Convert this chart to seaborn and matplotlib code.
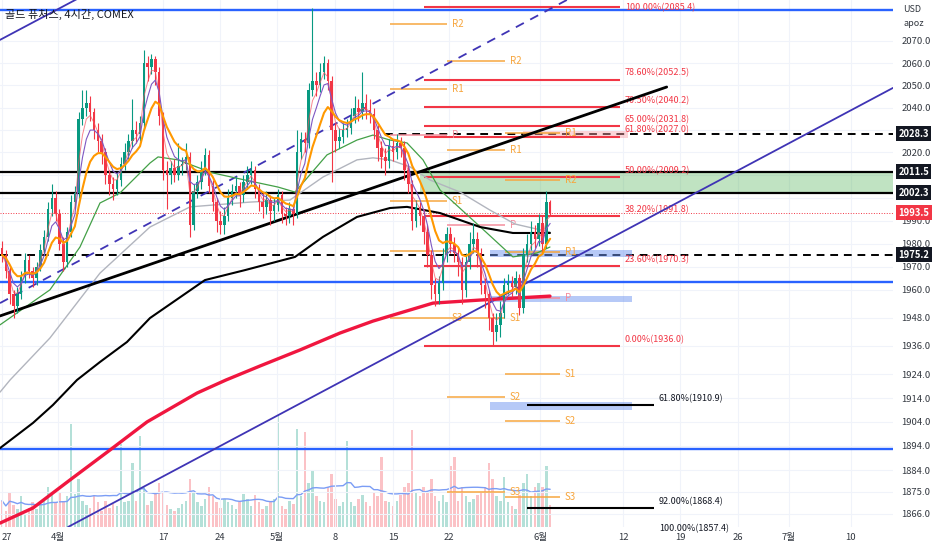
import numpy as np
import pandas as pd
import matplotlib
matplotlib.use('Agg')
import matplotlib.pyplot as plt
import matplotlib.transforms as mtransforms
from matplotlib.ticker import FixedLocator, NullLocator, FuncFormatter
import seaborn as sns

sns.set_theme(style='white')
plt.rcParams['font.family'] = ['Noto Sans CJK KR', 'DejaVu Sans']

# ---- candles: 3 candles per trading day, day 0 = Mar 27 ----
first_open = 1978
closes = [1975, 1968, 1958, 1953, 1958, 1966, 1973, 1968, 1965, 1970,
          1977, 1983, 1995, 2000, 1993, 1980, 1972, 1985, 1998, 2002,
          2035, 2040, 2042, 2038, 2030, 2025, 2020, 2010, 2006, 2004,
          2008, 2015, 2020, 2025, 2030, 2028, 2033, 2060, 2058, 2062,
          2056, 2036, 2012, 2010, 2013, 2010, 2014, 2015, 2018, 1988,
          2003, 2007, 2012, 2019, 2005, 1998, 1990, 1988, 1992, 2000,
          2003, 2005, 2001, 2007, 2010, 2012, 2004, 1998, 1996, 1999,
          1994, 1997, 2001, 1993, 1992, 1995, 1993, 2020, 2026, 2024,
          2048, 2052, 2050, 2056, 2060, 2052, 2030, 2025, 2027, 2030,
          2031, 2036, 2040, 2038, 2042, 2039, 2037, 2030, 2022, 2018,
          2016, 2023, 2020, 2024, 2022, 2012, 2006, 1990, 1996, 1992,
          1985, 1975, 1962, 1958, 1963, 1975, 1984, 1980, 1976, 1972,
          1960, 1972, 1980, 1982, 1976, 1962, 1958, 1948, 1942, 1945,
          1950, 1962, 1963, 1961, 1965, 1952, 1975, 1980, 1985, 1982,
          1989, 1980, 1998, 1993.5]
highs = [1981, 1977, 1970, 1960, 1961, 1968, 1976, 1975, 1970, 1972,
         1980, 1986, 1998, 2006, 2003, 1995, 1983, 1987, 2001, 2005,
         2038, 2048, 2048, 2045, 2040, 2033, 2028, 2022, 2012, 2009,
         2011, 2018, 2024, 2028, 2044, 2034, 2036, 2066, 2063, 2064,
         2063, 2058, 2038, 2016, 2016, 2017, 2024, 2018, 2024, 2020,
         2006, 2010, 2016, 2022, 2021, 2008, 2000, 1994, 1996, 2004,
         2006, 2009, 2007, 2010, 2014, 2016, 2014, 2006, 2002, 2003,
         2001, 2000, 2004, 2003, 1996, 1998, 1997, 2030, 2029, 2029,
         2051, 2085, 2056, 2060, 2063, 2062, 2054, 2033, 2031, 2033,
         2035, 2040, 2045, 2044, 2056, 2046, 2044, 2040, 2032, 2025,
         2022, 2026, 2026, 2028, 2027, 2025, 2015, 2008, 1999, 1998,
         1995, 1988, 1977, 1965, 1966, 1978, 1987, 1987, 1983, 1978,
         1974, 1976, 1985, 1989, 1985, 1978, 1965, 1960, 1950, 1950,
         1955, 1965, 1967, 1966, 1968, 1967, 1978, 1984, 1990, 1988,
         1993, 1992, 2003, 1999]
lows = [1972, 1965, 1954, 1948, 1950, 1956, 1963, 1965, 1961, 1962,
        1968, 1975, 1981, 1992, 1990, 1977, 1968, 1970, 1983, 1995,
        2000, 2032, 2036, 2034, 2026, 2020, 2015, 2006, 2001, 1999,
        2001, 2005, 2012, 2017, 2022, 2024, 2025, 2030, 2052, 2055,
        2050, 2032, 2008, 1995, 2006, 2007, 2008, 2010, 2012, 1983,
        1986, 2000, 2004, 2010, 2002, 1994, 1985, 1984, 1984, 1990,
        1997, 2000, 1996, 1998, 2004, 2006, 2000, 1994, 1991, 1993,
        1988, 1990, 1994, 1989, 1988, 1989, 1988, 1991, 2017, 2020,
        2022, 2045, 2045, 2047, 2053, 2048, 2007, 2020, 2022, 2024,
        2027, 2028, 2033, 2034, 2035, 2035, 2033, 2026, 2016, 2013,
        2010, 2013, 2016, 2017, 2018, 2008, 2002, 1986, 1987, 1988,
        1980, 1970, 1956, 1953, 1954, 1960, 1972, 1976, 1972, 1966,
        1954, 1957, 1969, 1976, 1970, 1958, 1952, 1943, 1936, 1938,
        1940, 1948, 1958, 1957, 1958, 1949, 1950, 1972, 1977, 1978,
        1979, 1976, 1978, 1992]
volumes = [30, 18, 40, 25, 20, 35, 15, 22, 28, 20,
           25, 30, 45, 38, 28, 40, 30, 35, 117, 38,
           55, 30, 25, 22, 35, 28, 18, 30, 22, 26,
           24, 95, 28, 30, 73, 30, 104, 45, 25, 30,
           38, 50, 40, 25, 20, 18, 22, 26, 30, 55,
           40, 28, 24, 32, 45, 35, 28, 22, 32, 28,
           25, 20, 28, 38, 32, 24, 36, 28, 20, 24,
           28, 32, 129, 24, 20, 30, 26, 112, 35, 108,
           50, 65, 35, 30, 28, 45, 60, 32, 24, 28,
           98, 28, 24, 32, 36, 28, 24, 40, 35, 80,
           30, 28, 24, 30, 36, 45, 50, 110, 40, 35,
           45, 40, 55, 35, 30, 36, 28, 70, 80, 30,
           45, 35, 28, 32, 36, 40, 45, 73, 55, 35,
           30, 57, 28, 24, 20, 36, 50, 60, 35, 45,
           50, 45, 70, 25]

# ---- long moving averages (day, price) ----
red_ma_days = [-0.17, 2.70, 5.91, 9.39, 12.61, 16.96, 19.48, 22.43, 25.91, 29.39, 32.26, 37.48, 41.57, 47.65]
red_ma_vals = [1862.2, 1868.4, 1879.9, 1892.3, 1904.0, 1916.1, 1921.6, 1927.5, 1934.3, 1941.5, 1946.6, 1954.3, 1955.6, 1957.3]
black_ma_days = [-0.17, 2.70, 4.43, 6.52, 8.52, 10.87, 12.87, 17.65, 21.13, 25.48, 27.91, 30.87, 33.74, 35.22, 38.09, 41.57, 44.43, 47.65]
black_ma_vals = [1893.1, 1903.6, 1911.1, 1921.6, 1929.2, 1937.7, 1947.9, 1964.2, 1968.5, 1974.2, 1982.9, 1991.6, 1995.5, 1996.0, 1993.3, 1987.2, 1984.6, 1984.6]
grey_ma_days = [-0.17, 0.70, 4.17, 8.52, 12.87, 16.35, 21.57, 25.04, 27.91, 30.87, 32.26, 33.74, 35.48, 37.22, 39.83, 42.43, 44.61, 47.65]
grey_ma_vals = [1916.5, 1921.6, 1939.4, 1967.2, 1987.2, 1996.0, 1998.1, 1999.0, 2009.1, 2016.7, 2017.6, 2016.7, 2013.6, 2007.8, 2002.5, 1994.6, 1988.5, 1985.0]
green_ma_days = [-0.17, 4.17, 6.78, 8.52, 10.26, 12.87, 13.57, 15.30, 18.26, 21.13, 24.0, 25.48, 28.26, 30.87, 32.26, 33.74, 35.22, 36.61, 38.09, 42.17, 44.43, 46.52, 47.65]
green_ma_vals = [1945.0, 1960.0, 1978.5, 1997.7, 2002.1, 2015.3, 2018.0, 2016.7, 2011.0, 2007.8, 2004.7, 2002.5, 2018.9, 2025.5, 2027.7, 2025.5, 2024.2, 2016.7, 2003.4, 1984.6, 1974.2, 1975.9, 1978.5]

# ---- drawn levels ----
blue_levels = [2084.1, 1963.4, 1892.7]
black_levels = [2011.5, 2002.3]
dashed_levels = [2028.3, 1975.2]
dashed_starts = [33.3, -0.17]
last_price = 1993.5

fib_levels = [2085.4, 2052.5, 2040.2, 2031.8, 2027.0, 2009.2, 1991.8, 1970.3, 1936.0]
fib_names = ['100.00%', '78.60%', '70.50%', '65.00%', '61.80%', '50.00%', '38.20%', '23.60%', '0.00%']
ext_levels = [1910.9, 1868.4, 1857.4]
ext_names = ['61.80%', '92.00%', '100.00%']

pivot_a_names = ['R2', 'R1', 'P', 'S1', '', 'S3']
pivot_a_vals = [2077.7, 2048.3, 2027.7, 1998.6, 1976.8, 1947.9]
pivot_b_names = ['R2', 'R1', 'P', 'S1', 'S2', 'S3']
pivot_b_vals = [2060.9, 2021.1, 1988.1, 1947.9, 1914.4, 1875.0]
pivot_c_names = ['R1', 'R2', 'R1', 'P', 'S1', 'S2', 'S3']
pivot_c_vals = [2028.6, 2007.8, 1976.3, 1956.5, 1924.1, 1904.4, 1872.9]

blue_zones = [(1974.0, 1977.2), (1954.8, 1957.3), (1909.0, 1912.3)]

tick_days = [0, 4.87, 14.0, 18.96, 23.9, 29.0, 34.0, 38.9, 46.8, 54.0, 59.0, 64.0, 68.4, 73.8]
tick_names = ['27', '4월', '17', '24', '5월', '8', '15', '22', '6월', '12', '19', '26', '7월', '10']
price_ticks = [2070, 2060, 2050, 2040, 2020, 1990, 1980, 1970, 1960,
               1948, 1936, 1924, 1914, 1904, 1894, 1884, 1875, 1866]
hidden_ticks = [2030, 2010, 2000]

UP, DOWN = '#089981', '#f23645'
ORANGE, PINK = '#f7a53c', '#f48c9c'
TXT = '#131722'

df = pd.DataFrame({'close': closes, 'high': highs, 'low': lows, 'volume': volumes})
df['open'] = [first_open] + closes[:-1]
df['day'] = np.arange(len(df)) / 3.0
df['up'] = df['close'] >= df['open']
cols = np.where(df['up'], UP, DOWN)

fig = plt.figure(figsize=(9.32, 5.5), dpi=100)
fig.patch.set_facecolor('white')
ax = fig.add_axes([0, 23 / 550, 893 / 932, 527 / 550])
axv = ax.twinx()
ax.set_zorder(2)
axv.set_zorder(1)
ax.patch.set_visible(False)

xmin, xmax = -0.174, 77.48
ax.set_yscale('log')
ax.set_xlim(xmin, xmax)
ax.set_ylim(1860.6, 2088.7)

# volume
axv.bar(df['day'], df['volume'], width=0.22, color=cols, alpha=0.3, linewidth=0)
vol_ma = df['volume'].rolling(20, min_periods=1).mean()
sns.lineplot(x=df['day'], y=vol_ma, ax=axv, color='#7b9df5', lw=1)
axv.set_ylim(0, 600)
axv.set_yticks([])
axv.set_ylabel('')
for s in axv.spines.values():
    s.set_visible(False)

# gridlines for price ticks hidden behind label boxes
for lv in hidden_ticks:
    ax.axhline(lv, color='#f0f3fa', lw=0.8, zorder=0)

# horizontal levels
for lv in blue_levels:
    ax.axhline(lv, color='#2962ff', lw=1.7, zorder=2)
ax.fill_between([36.35, xmax], black_levels[1], black_levels[0], color='#4caf50', alpha=0.35, lw=0, zorder=1)
for lv in black_levels:
    ax.axhline(lv, color='black', lw=1.6, zorder=2)
for lv, x0 in zip(dashed_levels, dashed_starts):
    ax.hlines(lv, x0, xmax, color='black', lw=1.4, linestyles=(0, (4, 3)), zorder=2)
ax.axhline(last_price, color=DOWN, lw=0.7, ls=':', zorder=2)

# zones
for lo, hi in blue_zones:
    ax.fill_between([42.43, 54.78], lo, hi, color='#6f95f0', alpha=0.5, lw=0, zorder=2)
ax.fill_between([45.3, 54.43], 2026.2, 2029.4, color='#f7a0a8', alpha=0.45, lw=0, zorder=2)

# fib retracement
for lv, nm in zip(fib_levels, fib_names):
    ax.hlines(lv, 36.7, 53.74, color=DOWN, lw=1.5, zorder=3)
    top = lv == max(fib_levels)
    ax.annotate(f'{nm}({lv:.1f})', (54.17, lv), xytext=(0, 0 if top else 1.5), textcoords='offset points',
                va='center' if top else 'bottom', ha='left', fontsize=6.5, color=DOWN,
                annotation_clip=False)
for lv, nm in zip(ext_levels, ext_names):
    if lv > 1860.6:
        ax.hlines(lv, 45.65, 56.7, color='black', lw=1.5, zorder=3)
    ax.annotate(f'{nm}({lv:.1f})', (57.13, lv), xytext=(0, 1.5), textcoords='offset points',
                va='bottom', ha='left', fontsize=6.5, color=TXT, annotation_clip=False)

# pivots
for names, vals, x0, x1 in [(pivot_a_names, pivot_a_vals, 33.74, 38.7),
                            (pivot_b_names, pivot_b_vals, 38.7, 43.74),
                            (pivot_c_names, pivot_c_vals, 43.74, 48.52)]:
    for nm, lv in zip(names, vals):
        c = PINK if nm == 'P' else ORANGE
        ax.hlines(lv, x0, x1, color=c, lw=1.2, alpha=0.9, zorder=2)
        if nm:
            ax.text(x1 + 0.4, lv, nm, color=c, fontsize=7, va='center', ha='left', zorder=3)

# trend lines (straight on screen)
ax.plot([5.74, 77.48], [1860.6, 2048.8], color='#3f34b5', lw=1.3, zorder=3)
ax.plot([-0.174, 7.22], [2070.5, 2091.1], color='#3f34b5', lw=1.3, zorder=3)
ax.plot([-0.174, 50.0], [1954.3, 2091.2], color='#3f34b5', lw=1.3, ls=(0, (5, 4)), zorder=3)
ax.plot([-0.174, 57.8], [1948.8, 2049.2], color='black', lw=2.0, zorder=4)

# long moving averages
sns.lineplot(x=grey_ma_days, y=grey_ma_vals, ax=ax, color='#b2b5be', lw=1.0, zorder=3)
sns.lineplot(x=green_ma_days, y=green_ma_vals, ax=ax, color='#43a047', lw=0.9, zorder=3)
sns.lineplot(x=black_ma_days, y=black_ma_vals, ax=ax, color='black', lw=1.5, zorder=3)
sns.lineplot(x=red_ma_days, y=red_ma_vals, ax=ax, color='#f0163f', lw=2.4, zorder=3)

# candles
ax.vlines(df['day'], df['low'], df['high'], colors=cols, lw=0.8, zorder=5)
body_lo = np.minimum(df['open'], df['close'])
body_h = np.maximum(np.abs(df['close'] - df['open']), 0.4)
ax.bar(df['day'], body_h, bottom=body_lo, width=0.22, color=cols, linewidth=0, zorder=5)

# short EMAs
ema3 = df['close'].ewm(span=3, adjust=False).mean()
ema5 = df['close'].ewm(span=5, adjust=False).mean()
ema10 = df['close'].ewm(span=10, adjust=False).mean()
sns.lineplot(x=df['day'], y=ema3, ax=ax, color='#f7525f', lw=0.7, alpha=0.7, zorder=6)
sns.lineplot(x=df['day'], y=ema5, ax=ax, color='#7e57c2', lw=0.8, zorder=6)
sns.lineplot(x=df['day'], y=ema10, ax=ax, color='#ff9800', lw=1.5, zorder=6)

# axes styling
ax.set_xlim(xmin, xmax)
ax.set_ylim(1860.6, 2088.7)
ax.yaxis.set_major_locator(FixedLocator(price_ticks))
ax.yaxis.set_minor_locator(NullLocator())
ax.yaxis.set_major_formatter(FuncFormatter(lambda v, p: f'{v:.1f}'))
ax.yaxis.tick_right()
ax.set_xticks(tick_days)
ax.set_xticklabels(tick_names)
ax.get_xticklabels()[0].set_horizontalalignment('left')
ax.tick_params(axis='y', length=0, labelsize=6.8, colors='#333840', pad=6)
ax.tick_params(axis='x', length=0, labelsize=6.8, colors='#333840', pad=4)
ax.set_xlabel('')
ax.set_ylabel('')
ax.grid(True, color='#f0f3fa', lw=0.8)
ax.set_axisbelow(True)
for s in ax.spines.values():
    s.set_visible(False)

# price boxes on the right scale
trans = mtransforms.blended_transform_factory(ax.transAxes, ax.transData)
for lv in [2028.3, 2011.5, 2002.3, 1975.2]:
    ax.text(1.006, lv, f'{lv:.1f}', transform=trans, color='white', fontsize=6.8, va='center',
            ha='left', fontweight='bold', clip_on=False, zorder=10,
            bbox=dict(boxstyle='square,pad=0.25', fc='#131722', ec='none'))
ax.text(1.006, last_price, f'{last_price:.1f}', transform=trans, color='white', fontsize=6.8,
        va='center', ha='left', fontweight='bold', clip_on=False, zorder=10,
        bbox=dict(boxstyle='square,pad=0.25', fc=DOWN, ec='none'))

fig.text(5 / 932, 1 - 14 / 550, '골드 퓨처스, 4시간, COMEX', fontsize=8, color=TXT, va='center')
fig.text(903 / 932, 1 - 10 / 550, 'USD', fontsize=6.5, color='#333840', va='center')
fig.text(903 / 932, 1 - 24 / 550, 'apoz', fontsize=6.5, color='#333840', va='center')

fig.savefig('out.png', dpi=100)
